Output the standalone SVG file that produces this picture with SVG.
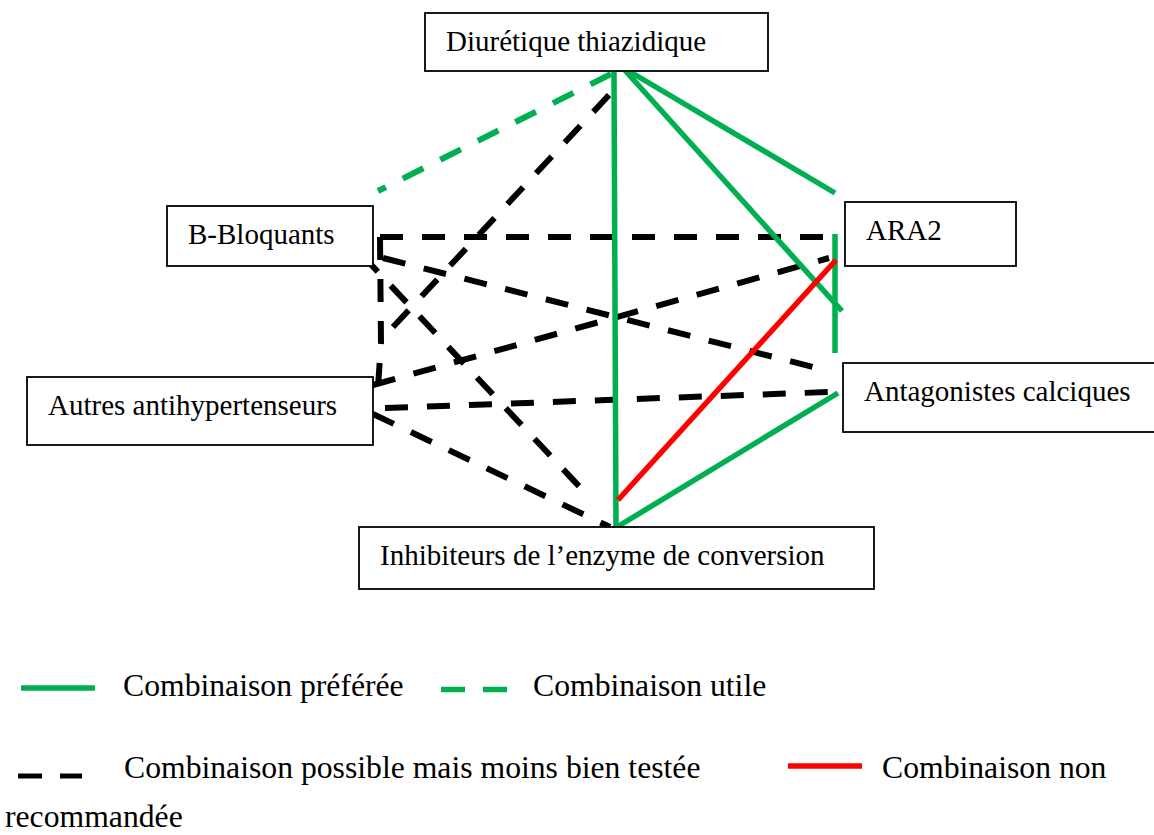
<svg xmlns="http://www.w3.org/2000/svg" width="1154" height="835" viewBox="0 0 1154 835">
<style>
.box{fill:#fff;stroke:#000;stroke-width:1.8}
.lbl{font-family:"Liberation Serif","Times New Roman",serif;font-size:29px;fill:#000}
.leg{font-family:"Liberation Serif","Times New Roman",serif;font-size:31.7px;fill:#000}
.gs{stroke:#00B050;stroke-width:5.5;fill:none}
.gd{stroke:#00B050;stroke-width:6;fill:none;stroke-dasharray:23 19}
.bd{stroke:#000;stroke-width:6;fill:none;stroke-dasharray:23 19}
.rs{stroke:#FF0000;stroke-width:5.5;fill:none}
</style>
<rect width="1154" height="835" fill="#fff"/>
<g id="connectors">
<line class="gd" x1="611" y1="74" x2="378" y2="191"/>
<line class="bd" x1="609" y1="95" x2="393" y2="327"/>
<path class="bd" d="M380 237 L829 237"/>
<path class="bd" d="M380 237 L381 343 L378 387"/>
<line class="bd" x1="383" y1="258" x2="817" y2="368"/>
<line class="bd" x1="362" y1="255" x2="592" y2="500"/>
<line class="bd" x1="373" y1="385" x2="829" y2="258"/>
<line class="bd" x1="385" y1="408" x2="829" y2="392"/>
<line class="bd" x1="373" y1="414" x2="610" y2="527"/>
<line class="gs" x1="614" y1="71" x2="616" y2="527"/>
<line class="gs" x1="622" y1="67" x2="835" y2="193"/>
<line class="gs" x1="622" y1="67" x2="842" y2="311"/>
<line class="gs" x1="835" y1="234" x2="835" y2="353"/>
<line class="gs" x1="838" y1="393" x2="617" y2="527"/>
<line class="rs" x1="836" y1="260" x2="618" y2="500"/>
</g>
<g id="node-diuretique">
<rect class="box" x="425" y="13" width="343" height="58"/>
<text class="lbl" x="446" y="51">Diurétique thiazidique</text>
</g>
<g id="node-bbloquants">
<rect class="box" x="167" y="206" width="206" height="60"/>
<text class="lbl" x="188" y="244">B-Bloquants</text>
</g>
<g id="node-ara2">
<rect class="box" x="845" y="202" width="171" height="64"/>
<text class="lbl" x="866" y="240">ARA2</text>
</g>
<g id="node-autres">
<rect class="box" x="27" y="377" width="346" height="68"/>
<text class="lbl" x="48" y="415">Autres antihypertenseurs</text>
</g>
<g id="node-antagonistes">
<rect class="box" x="843" y="363" width="320" height="69"/>
<text class="lbl" x="864" y="401">Antagonistes calciques</text>
</g>
<g id="node-iec">
<rect class="box" x="359" y="527" width="515" height="62"/>
<text class="lbl" x="380" y="565">Inhibiteurs de l’enzyme de conversion</text>
</g>
<g id="legend">
<line x1="21" y1="688" x2="95" y2="688" stroke="#00B050" stroke-width="5.5"/>
<text class="leg" x="123" y="696">Combinaison préférée</text>
<line x1="441" y1="689.5" x2="465" y2="689.5" stroke="#00B050" stroke-width="5.5"/>
<line x1="483" y1="689.5" x2="507" y2="689.5" stroke="#00B050" stroke-width="5.5"/>
<text class="leg" x="533" y="696">Combinaison utile</text>
<line x1="18" y1="776" x2="42" y2="776" stroke="#000" stroke-width="5"/>
<line x1="60" y1="776" x2="82" y2="776" stroke="#000" stroke-width="5"/>
<text class="leg" x="124" y="778">Combinaison possible mais moins bien testée</text>
<line x1="788" y1="766" x2="862" y2="766" stroke="#FF0000" stroke-width="5.5"/>
<text class="leg" x="882" y="778">Combinaison non</text>
<text class="leg" x="5" y="827">recommandée</text>
</g>
</svg>
